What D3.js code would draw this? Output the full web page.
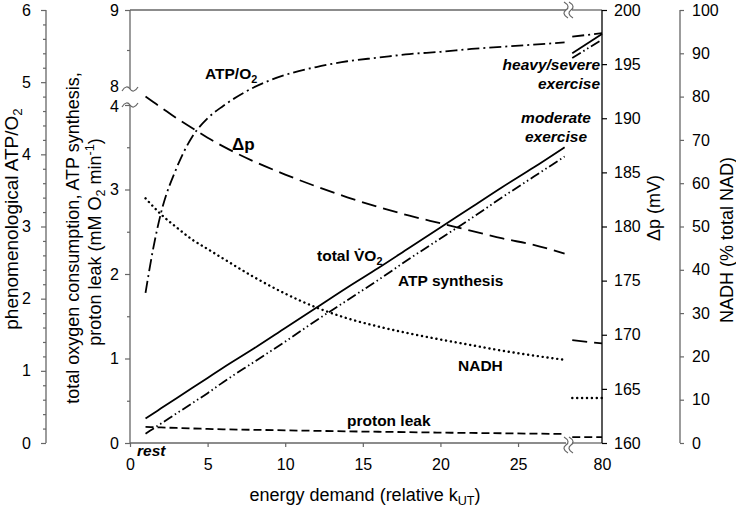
<!DOCTYPE html>
<html><head><meta charset="utf-8">
<script src="https://cdn.jsdelivr.net/npm/d3@7"></script>
<style>body{margin:0;background:#fff} text{font-family:"Liberation Sans",Arial,sans-serif}</style>
</head><body><svg id="c" width="736" height="510"></svg>
<script>
// ---- data ----
const kMain   = [1, 1.5, 2, 3, 4, 5, 6, 8, 10, 12, 14, 16, 18, 20, 22, 24, 26, 28];
const vo2     = [0.29,0.35,0.41,0.53,0.65,0.77,0.89,1.12,1.36,1.60,1.84,2.07,2.31,2.55,2.79,3.03,3.26,3.50];
const atpSyn  = [0.11,0.17,0.23,0.35,0.47,0.59,0.72,0.96,1.20,1.45,1.69,1.93,2.18,2.42,2.66,2.91,3.15,3.39];
const atpO2   = [2.08,2.70,3.19,3.81,4.24,4.50,4.67,4.93,5.10,5.21,5.29,5.34,5.39,5.42,5.46,5.49,5.52,5.55];
const dp      = [192.0,191.5,191.0,190.0,189.1,188.2,187.4,186.0,184.8,183.7,182.7,181.8,181.0,180.3,179.6,178.9,178.3,177.5];
const nadh    = [56.5,54.6,52.8,49.8,47.0,44.8,42.6,38.3,34.5,31.3,28.8,26.9,25.3,23.9,22.6,21.3,20.2,19.2];
const leak    = [0.19,0.187,0.184,0.178,0.172,0.167,0.162,0.156,0.150,0.144,0.138,0.133,0.128,0.123,0.119,0.115,0.111,0.107];
const kRight  = [63, 80];
const vo2R    = [8.46, 8.70];
const atpSynR = [8.40, 8.63];
const atpO2R  = [5.63, 5.68];
const dpR     = [169.5, 169.2];
const nadhR   = [10.4, 10.4];
const leakR   = [0.07, 0.07];
const xTicks  = [0, 5, 10, 15, 20, 25];
const xTicksR = [80];
const yLowTicks = [0, 1, 2, 3, 4];
const yHighTicks = [8, 9];
const atpO2Ticks = [0, 1, 2, 3, 4, 5, 6];
const dpTicks = [160, 165, 170, 175, 180, 185, 190, 195, 200];
const nadhTicks = [0, 10, 20, 30, 40, 50, 60, 70, 80, 90, 100];

// ---- scales ----
const svg = d3.select('#c');
const x  = d3.scaleLinear().domain([0, 28]).range([130, 564.6]);
const xR = d3.scaleLinear().domain([60, 80]).range([567, 602]);
const yLow  = d3.scaleLinear().domain([0, 4]).range([443, 105]);
const yHigh = d3.scaleLinear().domain([8, 9]).range([90, 10]);
const yMain = v => v <= 4 ? yLow(v) : yHigh(v);
const yAtp  = d3.scaleLinear().domain([0, 6]).range([443, 10]);
const yDp   = d3.scaleLinear().domain([160, 200]).range([443, 10]);
const yNad  = d3.scaleLinear().domain([0, 100]).range([443, 10]);
const GR = '#666';

function styleAxis(g, col, fs) {
  g.selectAll('.domain').remove();
  g.selectAll('line').attr('stroke', col).attr('stroke-width', 1.2);
  g.selectAll('text').attr('font-size', fs).attr('fill', '#000')
    .style('font-family', '"Liberation Sans",Arial,sans-serif');
}
function vline(xp, y1, y2, col) {
  svg.append('line').attr('x1', xp).attr('x2', xp).attr('y1', y1).attr('y2', y2)
    .attr('stroke', col).attr('stroke-width', 1.3);
}
function hline(y, x1, x2, col) {
  svg.append('line').attr('x1', x1).attr('x2', x2).attr('y1', y).attr('y2', y)
    .attr('stroke', col).attr('stroke-width', 1.3);
}

// ATP/O2 axis (far left)
const gA = svg.append('g').attr('transform', 'translate(46,0)')
  .call(d3.axisLeft(yAtp).tickValues(atpO2Ticks).tickSize(5).tickPadding(10).tickFormat(d3.format('d')));
styleAxis(gA, GR, 16);
svg.append('g').attr('transform', 'translate(46,0)')
  .call(d3.axisLeft(yAtp).tickValues(d3.range(0, 30).map(i => i * 0.2).filter(v => Math.abs(v - Math.round(v)) > 0.01)).tickSize(3).tickFormat(''))
  .call(g => styleAxis(g, GR, 0));
vline(46, 10, 443, GR);

// main left axis (broken)
const gL = svg.append('g').attr('transform', 'translate(130,0)')
  .call(d3.axisLeft(yLow).tickValues(yLowTicks).tickSize(5).tickPadding(6).tickFormat(d3.format('d')));
styleAxis(gL, GR, 16);
gL.selectAll('.tick').filter(d => d === 4).select('text').attr('dy', '0.42em');
svg.append('g').attr('transform', 'translate(130,0)')
  .call(d3.axisLeft(yLow).tickValues([0.5, 1.5, 2.5, 3.5]).tickSize(3).tickFormat(''))
  .call(g => styleAxis(g, GR, 0));
const gH = svg.append('g').attr('transform', 'translate(130,0)')
  .call(d3.axisLeft(yHigh).tickValues(yHighTicks).tickSize(5).tickPadding(6).tickFormat(d3.format('d')));
styleAxis(gH, GR, 16);
gH.selectAll('.tick').filter(d => d === 8).select('line').remove();
gH.selectAll('.tick').filter(d => d === 8).select('text').attr('dy', '0.1em');
svg.append('g').attr('transform', 'translate(130,0)')
  .call(d3.axisLeft(yHigh).tickValues([8.5]).tickSize(3).tickFormat(''))
  .call(g => styleAxis(g, GR, 0));
vline(130, 10, 89, GR);
vline(130, 105, 443, GR);

// break marks (tilde)
function hTilde(cx, cy) {
  svg.append('path').attr('d', `M${cx-8},${cy+2} C${cx-5},${cy-3} ${cx-2},${cy-3} ${cx},${cy} S${cx+5},${cy+3} ${cx+8},${cy-2}`)
    .attr('fill', 'none').attr('stroke', GR).attr('stroke-width', 1.2);
}
function vTilde(cx, cy) {
  svg.append('path').attr('d', `M${cx-2},${cy-8} C${cx+3},${cy-5} ${cx+3},${cy-2} ${cx},${cy} S${cx-3},${cy+5} ${cx+2},${cy+8}`)
    .attr('fill', 'none').attr('stroke', GR).attr('stroke-width', 1.2);
}
hTilde(130, 89); hTilde(130, 105);

// bottom & top axes
const gX = svg.append('g').attr('transform', 'translate(0,443)')
  .call(d3.axisBottom(x).tickValues(xTicks).tickSize(4).tickPadding(12).tickFormat(d3.format('d')));
styleAxis(gX, GR, 16);
const gXR = svg.append('g').attr('transform', 'translate(0,443)')
  .call(d3.axisBottom(xR).tickValues(xTicksR).tickSize(0).tickPadding(16).tickFormat(d3.format('d')));
styleAxis(gXR, GR, 16);
hline(443, 130, 566, GR); hline(443, 572, 602, GR);
hline(10, 130, 566, GR); hline(10, 572, 602, GR);
vTilde(566, 445); vTilde(571, 445);
vTilde(566, 10); vTilde(571, 10);

// Δp axis
const gD = svg.append('g').attr('transform', 'translate(602,0)')
  .call(d3.axisRight(yDp).tickValues(dpTicks).tickSize(5).tickPadding(7));
styleAxis(gD, '#000', 16);
vline(602, 10, 443, '#000');

// NADH axis
const gN = svg.append('g').attr('transform', 'translate(680,0)')
  .call(d3.axisRight(yNad).tickValues(nadhTicks).tickSize(4).tickPadding(8));
styleAxis(gN, GR, 16);
vline(680, 10, 443, GR);

// ---- series ----
function series(xs, ys, xsc, ysc, dash, curve, extra) {
  const pts = xs.map((k, i) => [xsc(k), ysc(ys[i])]);
  const p = svg.append('path').attr('d', d3.line().curve(curve || d3.curveMonotoneX)(pts))
    .attr('fill', 'none').attr('stroke', '#000').attr('stroke-width', 1.8)
    .attr('stroke-dasharray', dash || null);
  if (extra) extra(p);
}
const D_SYN = '10,3,1.5,3,1.5,3', D_ATPO2 = '12,4,2,4', D_DP = '15,7', D_LEAK = '8,4';
const dots = p => p.attr('stroke-dasharray', '0.1,4.8').attr('stroke-linecap', 'round').attr('stroke-width', 2.4);
series(kMain, vo2, x, yMain, null);
series(kMain, atpSyn, x, yMain, D_SYN);
series(kMain, atpO2, x, yAtp, D_ATPO2);
series(kMain, dp, x, yDp, D_DP);
series(kMain, nadh, x, yNad, null, null, dots);
series(kMain, leak, x, yMain, D_LEAK);
series(kRight, vo2R, xR, yMain, null, d3.curveLinear);
series(kRight, atpSynR, xR, yMain, D_SYN, d3.curveLinear);
series(kRight, atpO2R, xR, yAtp, D_ATPO2, d3.curveLinear);
series(kRight, dpR, xR, yDp, D_DP, d3.curveLinear);
series(kRight, nadhR, xR, yNad, null, d3.curveLinear, dots);
series(kRight, leakR, xR, yMain, D_LEAK, d3.curveLinear);

// ---- labels ----
function label(xp, yp, parts, opts) {
  opts = opts || {};
  const t = svg.append('text').attr('x', xp).attr('y', yp)
    .attr('font-size', opts.fs || 15.5).attr('font-weight', opts.bold === false ? 'normal' : 'bold')
    .attr('font-style', opts.italic ? 'italic' : 'normal')
    .attr('text-anchor', opts.anchor || 'start');
  if (opts.rot) t.attr('transform', `rotate(-90,${xp},${yp})`);
  parts.forEach(p => {
    const s = t.append('tspan').text(p.t);
    if (p.sub) s.attr('font-size', (opts.fs || 15.5) * 0.7).attr('dy', 4);
    if (p.sup) s.attr('font-size', (opts.fs || 15.5) * 0.7).attr('dy', -7);
    if (p.back) s.attr('dy', p.back);
  });
  return t;
}
label(205, 79, [{t: 'ATP/O'}, {t: '2', sub: true}]);
label(232, 150, [{t: 'Δp'}], {fs: 17});
label(317, 261, [{t: 'total V\u0307O'}, {t: '2', sub: true}]);
label(398, 286, [{t: 'ATP synthesis'}]);
label(458, 371, [{t: 'NADH'}]);
label(347, 426, [{t: 'proton leak'}]);
label(137, 456, [{t: 'rest'}], {italic: true});
label(556, 123, [{t: 'moderate'}], {italic: true, anchor: 'middle'});
label(556, 142, [{t: 'exercise'}], {italic: true, anchor: 'middle'});
label(600, 70, [{t: 'heavy/severe'}], {italic: true, anchor: 'end'});
label(600, 89, [{t: 'exercise'}], {italic: true, anchor: 'end'});

// axis titles
label(365, 501, [{t: 'energy demand (relative k'}, {t: 'UT', sub: true}, {t: ')', back: -4}], {bold: false, fs: 18, anchor: 'middle'});
label(18, 219, [{t: 'phenomenological ATP/O'}, {t: '2', sub: true}], {bold: false, fs: 19, anchor: 'middle', rot: true});
label(79, 238, [{t: 'total oxygen consumption, ATP synthesis,'}], {bold: false, fs: 18, anchor: 'middle', rot: true});
label(101, 242, [{t: 'proton leak (mM O'}, {t: '2', sub: true}, {t: ' min', back: -4}, {t: '-1', sup: true}, {t: ')', back: 7}], {bold: false, fs: 18, anchor: 'middle', rot: true});
label(660, 208, [{t: 'Δp (mV)'}], {bold: false, fs: 18, anchor: 'middle', rot: true});
label(733, 240, [{t: 'NADH (% total NAD)'}], {bold: false, fs: 18, anchor: 'middle', rot: true});
</script></body></html>
